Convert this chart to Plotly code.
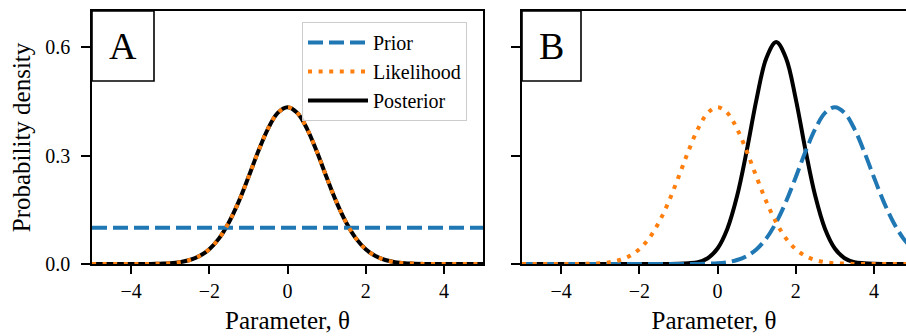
import plotly.graph_objects as go

# ---- data ----
theta = [-5.0, -4.75, -4.5, -4.25, -4.0, -3.75, -3.5, -3.25, -3.0, -2.75,
         -2.5, -2.25, -2.0, -1.75, -1.5, -1.25, -1.0, -0.75, -0.5, -0.25,
         0.0, 0.25, 0.5, 0.75, 1.0, 1.25, 1.5, 1.75, 2.0, 2.25,
         2.5, 2.75, 3.0, 3.25, 3.5, 3.75, 4.0, 4.25, 4.5, 4.75, 5.0]

# Panel A
prior_a = [0.1] * 41
likelihood_a = [0, 0, 0, 0, 0, 0, 0.0003, 0.001, 0.002, 0.005,
                0.011, 0.022, 0.041, 0.071, 0.115, 0.172, 0.240, 0.311, 0.374, 0.418,
                0.434, 0.418, 0.374, 0.311, 0.240, 0.172, 0.115, 0.071, 0.041, 0.022,
                0.011, 0.005, 0.002, 0.001, 0.0003, 0, 0, 0, 0, 0, 0]
posterior_a = [0, 0, 0, 0, 0, 0, 0.0003, 0.001, 0.002, 0.005,
               0.011, 0.022, 0.041, 0.071, 0.115, 0.172, 0.240, 0.311, 0.374, 0.418,
               0.434, 0.418, 0.374, 0.311, 0.240, 0.172, 0.115, 0.071, 0.041, 0.022,
               0.011, 0.005, 0.002, 0.001, 0.0003, 0, 0, 0, 0, 0, 0]

# Panel B
prior_b = [0, 0, 0, 0, 0, 0, 0, 0, 0, 0,
           0, 0, 0, 0, 0, 0, 0, 0, 0.0003, 0.001,
           0.002, 0.005, 0.011, 0.022, 0.041, 0.071, 0.115, 0.172, 0.240, 0.311,
           0.374, 0.418, 0.434, 0.418, 0.374, 0.311, 0.240, 0.172, 0.115, 0.071, 0.041]
likelihood_b = [0, 0, 0, 0, 0, 0, 0.0003, 0.001, 0.002, 0.005,
                0.011, 0.022, 0.041, 0.071, 0.115, 0.172, 0.240, 0.311, 0.374, 0.418,
                0.434, 0.418, 0.374, 0.311, 0.240, 0.172, 0.115, 0.071, 0.041, 0.022,
                0.011, 0.005, 0.002, 0.001, 0.0003, 0, 0, 0, 0, 0, 0]
posterior_b = [0, 0, 0, 0, 0, 0, 0, 0, 0, 0,
               0, 0, 0, 0, 0, 0.0001, 0.0006, 0.002, 0.005, 0.016,
               0.043, 0.097, 0.188, 0.315, 0.457, 0.570, 0.614, 0.570, 0.457, 0.315,
               0.188, 0.097, 0.043, 0.016, 0.005, 0.002, 0.0006, 0.0001, 0, 0, 0]

x_tickvals = [-4, -2, 0, 2, 4]
x_ticktext = ["\u22124", "\u22122", "0", "2", "4"]
y_tickvals = [0.0, 0.3, 0.6]
y_ticktext = ["0.0", "0.3", "0.6"]
panel_labels = ["A", "B"]

# ---- styling ----
W, H = 906, 336
FONT = "Liberation Serif"
BLUE, ORANGE, BLACK = "#1f77b4", "#ff7f0e", "#000000"
LW = 4
DASH = "15px,6px"
DOT = "4px,6.6px"

def px_x(p):
    return p / W

def px_y(p):
    return 1 - p / H

fig = go.Figure()

panels = [
    ("x", "y", prior_a, likelihood_a, posterior_a, True),
    ("x2", "y2", prior_b, likelihood_b, posterior_b, False),
]
for xa, ya, pr, lk, po, show in panels:
    fig.add_trace(go.Scatter(x=theta, y=po, xaxis=xa, yaxis=ya, mode="lines",
                             name="Posterior", legendrank=3, showlegend=show,
                             line=dict(color=BLACK, width=LW, shape="spline", smoothing=1.0)))
    fig.add_trace(go.Scatter(x=theta, y=pr, xaxis=xa, yaxis=ya, mode="lines",
                             name="Prior", legendrank=1, showlegend=show,
                             line=dict(color=BLUE, width=LW, dash=DASH, shape="spline", smoothing=1.0)))
    fig.add_trace(go.Scatter(x=theta, y=lk, xaxis=xa, yaxis=ya, mode="lines",
                             name="Likelihood", legendrank=2, showlegend=show,
                             line=dict(color=ORANGE, width=LW, dash=DOT, shape="spline", smoothing=1.0)))

tickfont = dict(family=FONT, size=20, color="black")
titlefont = dict(family=FONT, size=25, color="black")
ydom = [px_y(264), px_y(11)]

common_x = dict(range=[-5, 5], tickvals=x_tickvals, ticktext=x_ticktext, ticks="outside",
                ticklen=8, tickwidth=1.6, tickcolor="black", showline=True, linewidth=1.6,
                linecolor="black", mirror=True, showgrid=False, zeroline=False,
                automargin=False, tickfont=tickfont,
                title=dict(text="Parameter, \u03b8", font=titlefont, standoff=11))
common_y = dict(range=[0, 0.7], tickvals=y_tickvals, ticktext=y_ticktext, ticks="outside",
                ticklen=9, tickwidth=1.6, tickcolor="black", showline=True, linewidth=1.6,
                linecolor="black", showgrid=False, zeroline=False, tickfont=tickfont,
                automargin=False, domain=ydom)

fig.update_layout(
    width=W, height=H,
    margin=dict(l=0, r=0, t=0, b=0, autoexpand=False),
    paper_bgcolor="white", plot_bgcolor="white",
    font=dict(family=FONT, color="black"),
    xaxis=dict(common_x, domain=[px_x(92), px_x(483)], anchor="y"),
    yaxis=dict(common_y, anchor="x", mirror=True, ticklabelstandoff=7,
               title=dict(text="Probability density", font=titlefont, standoff=7)),
    xaxis2=dict(common_x, domain=[px_x(522), 1.0], anchor="y2", range=[-5, 4.82]),
    yaxis2=dict(common_y, anchor="x2", mirror=False, showticklabels=False),
    legend=dict(x=px_x(302), y=px_y(22), xanchor="left", yanchor="top",
                bgcolor="rgba(255,255,255,0.8)", bordercolor="#cccccc", borderwidth=1,
                itemwidth=60,
                font=dict(family=FONT, size=20, color="black"), traceorder="normal"),
    showlegend=True,
)

# panel letter boxes
boxes = [(92, 154, 11, 81), (522, 581, 11, 81)]
for (x0, x1, y0, y1), lab in zip(boxes, panel_labels):
    fig.add_shape(type="rect", xref="paper", yref="paper",
                  x0=px_x(x0), x1=px_x(x1), y0=px_y(y1), y1=px_y(y0),
                  line=dict(color="black", width=1.6), fillcolor="white", layer="above")
    fig.add_annotation(text=lab, xref="paper", yref="paper",
                       x=px_x((x0 + x1) / 2), y=px_y((y0 + y1) / 2),
                       xanchor="center", yanchor="middle", showarrow=False,
                       font=dict(family=FONT, size=38, color="black"))

fig.write_html("out.html",
               config={"displayModeBar": False},
               post_script="document.body.style.margin='0';document.body.style.overflow='hidden';")
